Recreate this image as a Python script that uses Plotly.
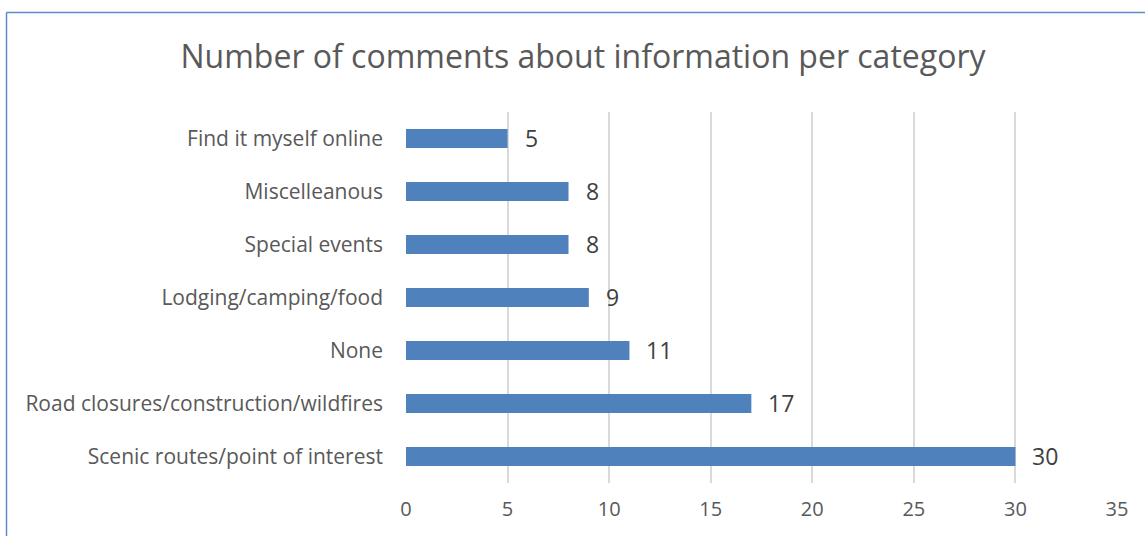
import plotly.graph_objects as go

categories = [
    "Find it myself online",
    "Miscelleanous",
    "Special events",
    "Lodging/camping/food",
    "None",
    "Road closures/construction/wildfires",
    "Scenic routes/point of interest",
]
counts = [5, 8, 8, 9, 11, 17, 30]
x_ticks = [0, 5, 10, 15, 20, 25, 30, 35]

W, H = 1145, 536
L, R, T, B = 406, 28, 112, 53
pw, ph = W - L - R, H - T - B

FONT = "Open Sans, sans-serif"
BAR = "#4f81bd"
BORDER = "#5b8bc9"

fig = go.Figure(
    go.Bar(
        x=counts,
        y=categories,
        orientation="h",
        width=0.36,
        marker=dict(color=BAR, line=dict(width=0)),
        hoverinfo="x+y",
    )
)

# value labels just past the end of each bar
for c, v in zip(categories, counts):
    fig.add_annotation(
        x=v, y=c, text=str(v), showarrow=False,
        xanchor="left", yanchor="middle", xshift=15, yshift=1,
        font=dict(family=FONT, size=23, color="#404040"),
    )

# chart frame (left and top edges)
bx = (6.5 - L) / pw
by = 1 + (T - 12.5) / ph
fig.add_shape(type="line", xref="paper", yref="paper",
              x0=bx, x1=bx, y0=by, y1=-2, line=dict(color=BORDER, width=1.5))
fig.add_shape(type="line", xref="paper", yref="paper",
              x0=bx, x1=2, y0=by, y1=by, line=dict(color=BORDER, width=1.5))

fig.update_layout(
    width=W, height=H,
    margin=dict(l=L, r=R, t=T, b=B, pad=0),
    paper_bgcolor="white", plot_bgcolor="white",
    showlegend=False,
    title=dict(
        text="Number of comments about information per category",
        x=(583) / W, xanchor="center", y=1 - 57 / H, yanchor="middle",
        font=dict(family=FONT, size=32, color="#595959"),
    ),
    xaxis=dict(
        range=[0, 35], tickvals=x_ticks, showgrid=True,
        gridcolor="#d9d9d9", gridwidth=1.5, zeroline=False,
        showline=False, ticks="", ticklabelstandoff=12,
        tickfont=dict(family=FONT, size=20, color="#595959"),
        fixedrange=True,
    ),
    yaxis=dict(
        categoryorder="array", categoryarray=categories[::-1],
        showgrid=False, zeroline=False, showline=False, ticks="",
        ticklabelstandoff=22,
        tickfont=dict(family=FONT, size=21, color="#595959"),
        fixedrange=True,
    ),
)

fig.write_html("out.html")
